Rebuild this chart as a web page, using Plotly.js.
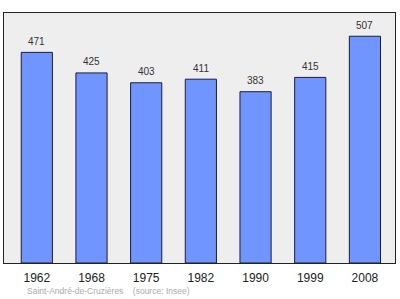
<!DOCTYPE html>
<html>
<head>
<meta charset="utf-8">
<script src="https://cdn.plot.ly/plotly-3.0.1.min.js"></script>
<style>html,body{margin:0;padding:0;background:#fff;}#chart{width:400px;height:299px;}</style>
</head>
<body>
<div id="chart"></div>
<script>
const years = ["1962", "1968", "1975", "1982", "1990", "1999", "2008"];
const population = [471, 425, 403, 411, 383, 415, 507];
const footnote = "Saint-André-de-Cruzières&nbsp;&nbsp;&nbsp;&nbsp;(source: Insee)";

const trace = {
  type: "bar",
  x: years,
  y: population,
  marker: {color: "#7095ff", line: {color: "#1c1c3a", width: 1}},
  width: 0.57,
  hoverinfo: "none"
};

const valueLabels = years.map((yr, i) => ({
  x: i, y: population[i], xref: "x", yref: "y",
  text: String(population[i]), showarrow: false,
  xanchor: "center", yanchor: "middle", yshift: 11,
  font: {size: 10, color: "#333"}
}));

const layout = {
  width: 400, height: 299,
  margin: {l: 4, r: 5, t: 13, b: 36, pad: 0},
  paper_bgcolor: "#ffffff",
  plot_bgcolor: "#eeeeee",
  showlegend: false,
  font: {family: "Liberation Sans, Arial, sans-serif"},
  xaxis: {
    type: "category",
    range: [-0.6, 6.55],
    showline: true, mirror: true, linecolor: "#222", linewidth: 1,
    showgrid: false, zeroline: false, ticks: "",
    tickfont: {size: 12, color: "#222"},
    ticklabelstandoff: 4
  },
  yaxis: {
    range: [0, 559],
    showline: true, mirror: true, linecolor: "#222", linewidth: 1,
    showgrid: false, zeroline: false, showticklabels: false, ticks: ""
  },
  annotations: valueLabels.concat([{
    xref: "paper", yref: "paper",
    x: 0.053, y: -0.11, xanchor: "left", yanchor: "middle",
    text: footnote, showarrow: false,
    font: {size: 8.5, color: "#aaaaaa"}
  }])
};

Plotly.newPlot("chart", [trace], layout, {staticPlot: true, displayModeBar: false});
</script>
</body>
</html>
